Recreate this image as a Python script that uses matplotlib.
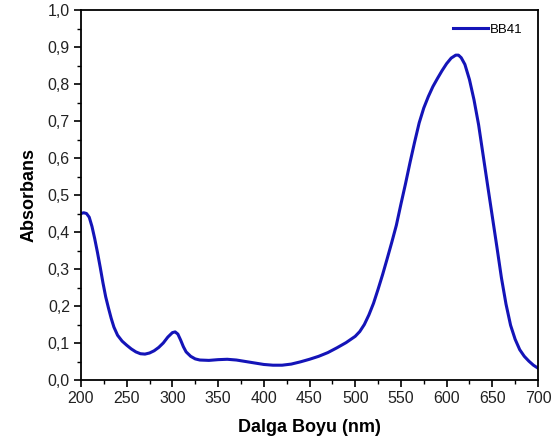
import matplotlib
matplotlib.use("Agg")
import matplotlib.pyplot as plt
from matplotlib.ticker import MultipleLocator, FuncFormatter

plt.rcParams['font.family'] = ['Liberation Sans', 'DejaVu Sans']

wavelength = [200, 203, 206, 209, 212, 215, 218, 221, 224, 227, 230, 233, 236, 240, 245,
              250, 255, 260, 265, 270, 275, 280, 285, 290, 295, 300, 303, 306, 309, 312,
              315, 320, 325, 330, 340, 350, 360, 370, 380, 390, 400, 410, 420, 430, 440,
              450, 460, 470, 480, 490, 500, 505, 510, 515, 520, 525, 530, 535, 540, 545,
              550, 555, 560, 565, 570, 575, 580, 585, 590, 595, 600, 605, 610, 613, 616,
              620, 625, 630, 635, 640, 645, 650, 655, 660, 665, 670, 675, 680, 685, 690,
              695, 700]
absorbance = [0.450, 0.452, 0.450, 0.440, 0.415, 0.382, 0.345, 0.305, 0.263, 0.225, 0.195, 0.167, 0.143, 0.121, 0.105,
              0.094, 0.084, 0.076, 0.071, 0.070, 0.073, 0.079, 0.088, 0.100, 0.116, 0.128, 0.130, 0.124, 0.108, 0.090,
              0.076, 0.064, 0.057, 0.054, 0.053, 0.055, 0.056, 0.054, 0.050, 0.046, 0.042, 0.040, 0.040, 0.043, 0.049,
              0.056, 0.064, 0.074, 0.087, 0.101, 0.118, 0.131, 0.150, 0.176, 0.207, 0.245, 0.285, 0.328, 0.372, 0.418,
              0.475, 0.530, 0.588, 0.643, 0.695, 0.735, 0.766, 0.793, 0.815, 0.836, 0.855, 0.870, 0.878, 0.878, 0.871,
              0.853, 0.812, 0.757, 0.690, 0.607, 0.524, 0.442, 0.360, 0.276, 0.205, 0.148, 0.110, 0.082, 0.064, 0.051,
              0.040, 0.032]
series_label = "BB41"
x_label = "Dalga Boyu (nm)"
y_label = "Absorbans"

fig = plt.figure(figsize=(5.51, 4.46), dpi=100)
ax = fig.add_axes([81/551, 1-380/446, (538-81)/551, (380-10)/446])
ax.plot(wavelength, absorbance, color='#1414b8', lw=2.2, label=series_label,
        solid_joinstyle='round')
ax.set_xlim(200, 700)
ax.set_ylim(0, 1.0)
ax.xaxis.set_major_locator(MultipleLocator(50))
ax.xaxis.set_minor_locator(MultipleLocator(25))
ax.yaxis.set_major_locator(MultipleLocator(0.1))
ax.yaxis.set_minor_locator(MultipleLocator(0.05))
ax.yaxis.set_major_formatter(FuncFormatter(lambda v, p: f"{v:.1f}".replace('.', ',')))
ax.tick_params(which='major', direction='out', length=5, width=1.2, labelsize=11.5,
               colors='black', labelcolor='#222222', pad=3)
ax.tick_params(which='minor', direction='out', length=3, width=1.0)
ax.tick_params(top=False, right=False)
for s in ax.spines.values():
    s.set_linewidth(1.3)
ax.set_xlabel(x_label, fontsize=13, fontweight='bold', labelpad=9)
ax.set_ylabel(y_label, fontsize=13, fontweight='bold', labelpad=7)
ax.legend(loc='center right', frameon=False, fontsize=9.5, handlelength=2.65, handletextpad=0.15,
          bbox_to_anchor=(0.967, 0.946), borderaxespad=0, borderpad=0)
fig.savefig("out.png", dpi=100)
